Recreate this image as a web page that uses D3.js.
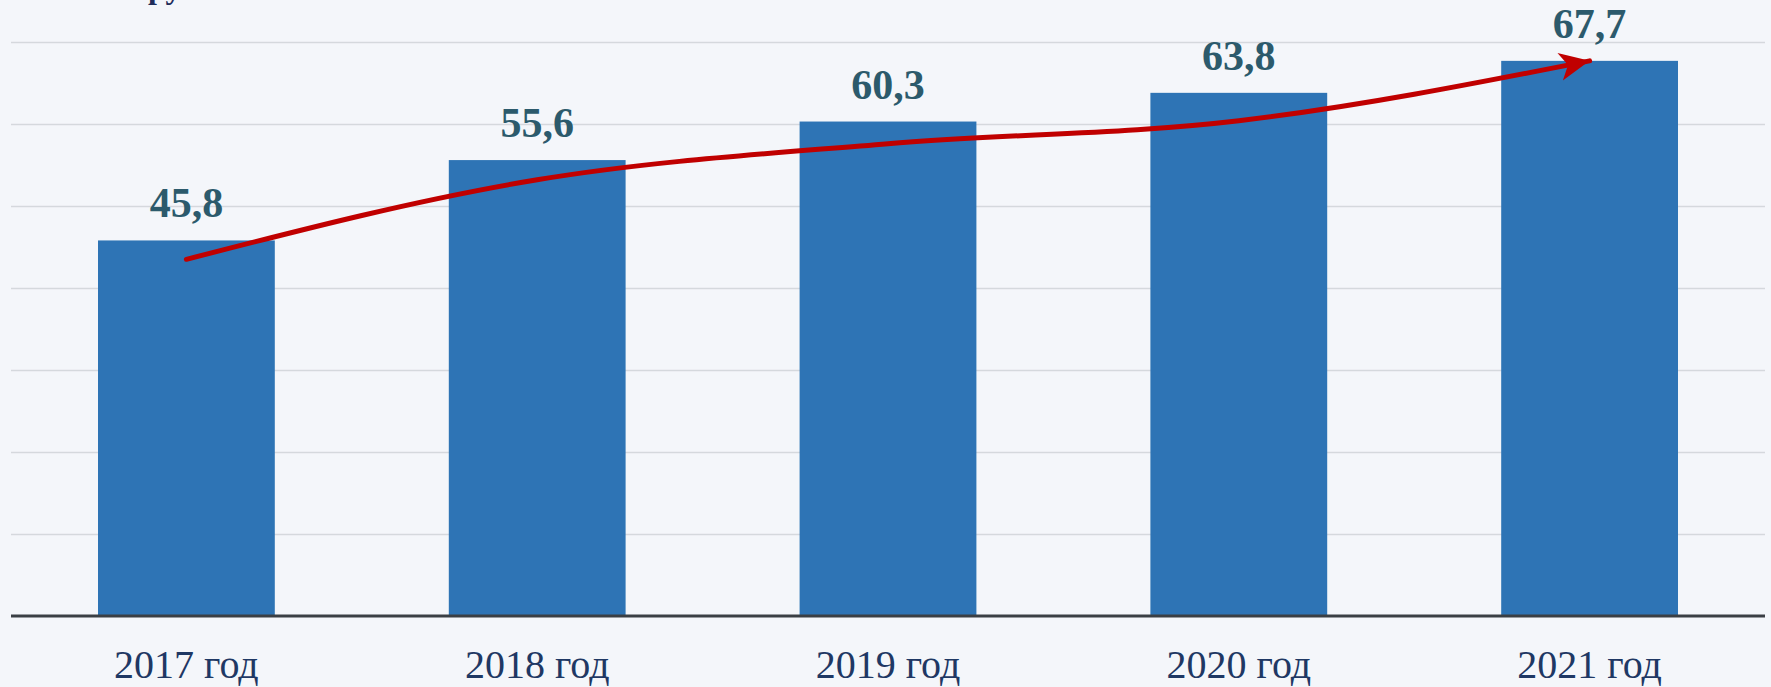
<!DOCTYPE html>
<html>
<head>
<meta charset="utf-8">
<script src="https://cdn.jsdelivr.net/npm/d3@7"></script>
<style>
  html, body { margin: 0; padding: 0; background: #f4f6fa; }
  svg { display: block; }
</style>
</head>
<body>
<div id="chart"></div>
<script>
// values
const years = ["2017 год", "2018 год", "2019 год", "2020 год", "2021 год"];
const values = [45.8, 55.6, 60.3, 63.8, 67.7];
const labels = ["45,8", "55,6", "60,3", "63,8", "67,7"];
const trend = [43.5, 53.2, 57.6, 60.4, 67.7];
const gridTicks = [10, 20, 30, 40, 50, 60, 70];
const unitText = "руб.";

const width = 1771;
const height = 687;
const marginLeft = 11;
const marginRight = 6;
const marginTop = 42;
const baseY = 616;

const x = d3
  .scaleBand()
  .domain(years)
  .range([marginLeft, width - marginRight])
  .paddingInner(0.496)
  .paddingOuter(0.248);

const y = d3.scaleLinear().domain([0, 70]).range([baseY, marginTop]);

const svg = d3
  .select("#chart")
  .append("svg")
  .attr("width", width)
  .attr("height", height)
  .attr("viewBox", [0, 0, width, height]);

svg.append("rect")
  .attr("width", width)
  .attr("height", height)
  .attr("fill", "#f4f6fa");

// unit caption, only its lower part is inside the picture
svg.append("text")
  .attr("x", 148)
  .attr("y", -2)
  .attr("font-family", "Liberation Serif")
  .attr("font-weight", "bold")
  .attr("font-size", 32)
  .attr("fill", "#1f2d5a")
  .text(unitText);

// gridlines
const grid = svg.append("g")
  .attr("transform", `translate(${marginLeft},0)`)
  .call(d3.axisLeft(y).tickValues(gridTicks).tickSize(-(width - marginLeft - marginRight)).tickFormat(""));
grid.select(".domain").remove();
grid.selectAll(".tick line")
  .attr("stroke", "#d5d8dd")
  .attr("stroke-width", 1.5);

// bars
svg.append("g")
  .selectAll("rect")
  .data(values)
  .join("rect")
  .attr("x", (d, i) => x(years[i]))
  .attr("y", (d) => y(d))
  .attr("width", x.bandwidth())
  .attr("height", (d) => y(0) - y(d))
  .attr("fill", "#2e74b5");

// value labels
svg.append("g")
  .attr("font-family", "Liberation Serif")
  .attr("font-weight", "bold")
  .attr("font-size", 42)
  .attr("fill", "#2c5a6c")
  .attr("text-anchor", "middle")
  .selectAll("text")
  .data(values)
  .join("text")
  .attr("x", (d, i) => x(years[i]) + x.bandwidth() / 2)
  .attr("y", (d) => y(d) - 23)
  .text((d, i) => labels[i]);

// x axis
const xAxis = svg.append("g")
  .attr("transform", `translate(0,${baseY})`)
  .call(d3.axisBottom(x).tickSize(0).tickPadding(34));
xAxis.select(".domain")
  .attr("stroke", "#3a3f44")
  .attr("stroke-width", 3)
  .attr("d", `M${marginLeft},0H${width - marginRight}`);
xAxis.selectAll("text")
  .attr("font-family", "Liberation Serif")
  .attr("font-size", 40)
  .attr("fill", "#1f3864");

// red trend arrow
svg.append("defs")
  .append("marker")
  .attr("id", "head")
  .attr("markerUnits", "userSpaceOnUse")
  .attr("viewBox", "-32 -16 34 32")
  .attr("refX", 0)
  .attr("refY", 0)
  .attr("markerWidth", 34)
  .attr("markerHeight", 32)
  .attr("orient", "auto")
  .append("path")
  .attr("d", "M0,0L-30,-14L-22,0L-30,14Z")
  .attr("fill", "#c00000");

const line = d3.line()
  .x((d, i) => x(years[i]) + x.bandwidth() / 2)
  .y((d) => y(d))
  .curve(d3.curveMonotoneX);

svg.append("path")
  .attr("d", line(trend))
  .attr("fill", "none")
  .attr("stroke", "#c00000")
  .attr("stroke-width", 5)
  .attr("stroke-linecap", "round")
  .attr("marker-end", "url(#head)");
</script>
</body>
</html>
